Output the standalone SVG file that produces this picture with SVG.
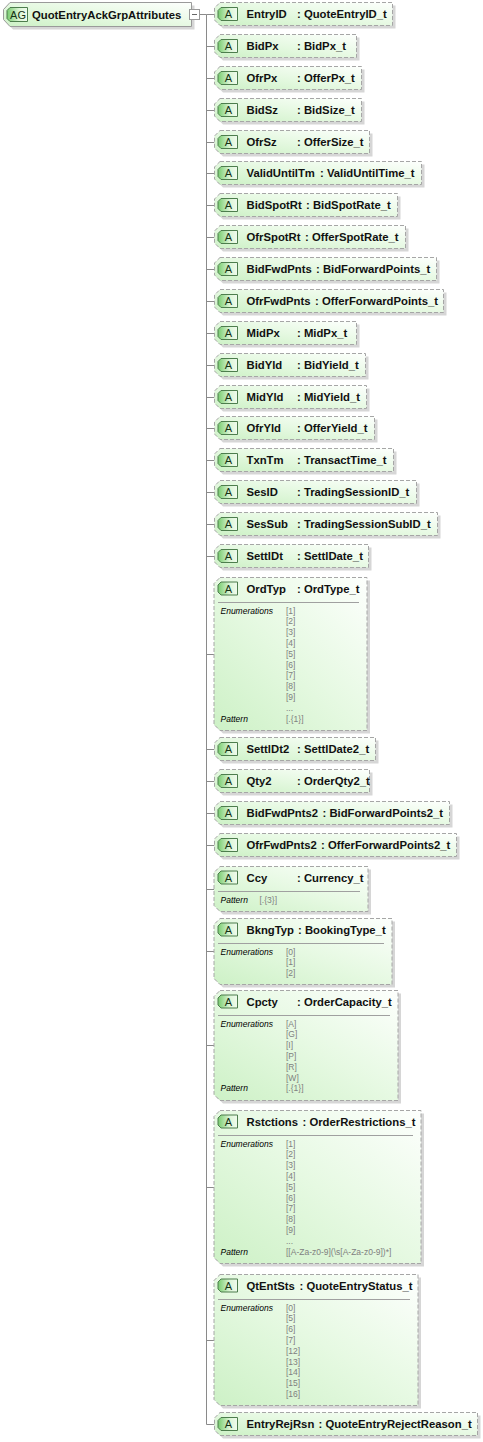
<svg xmlns="http://www.w3.org/2000/svg" width="483" height="1442" viewBox="0 0 483 1442">
<defs>
<linearGradient id="gf" x1="0" y1="1" x2="1" y2="0"><stop offset="0" stop-color="#cdf1c6"/><stop offset="0.5" stop-color="#e6f9e2"/><stop offset="1" stop-color="#fdfffd"/></linearGradient>
<linearGradient id="gb" x1="0" y1="0" x2="1" y2="0"><stop offset="0" stop-color="#78cc6f"/><stop offset="0.6" stop-color="#dcf5d6"/><stop offset="1" stop-color="#f0fbee"/></linearGradient>
<g id="ba"><polygon class="bd" points="221,-6.5 237.5,-6.5 237.5,6.5 221,6.5 218,3.5 218,-3.5"/><text class="bt" x="228.5" y="4">A</text></g>
</defs>
<style>
.sh{fill:#d6d6d6}
.nd{fill:url(#gf);stroke:#a6a6a6;stroke-dasharray:4 2}
.rt{fill:url(#gf);stroke:#9a9a9a}
.bd{fill:url(#gb);stroke:#4d7d4d}
.bt{font-family:"Liberation Sans",Arial,sans-serif;font-size:11px;fill:#143214;text-anchor:middle}
.nm{font-family:"Liberation Sans",Arial,sans-serif;font-size:11.3px;font-weight:bold;fill:#111}
.lb{font-family:"Liberation Sans",Arial,sans-serif;font-size:8.5px;font-style:italic;fill:#000}
.vl{font-family:"Liberation Sans",Arial,sans-serif;font-size:8.5px;fill:#808080}
.sep{stroke:#a0a0a0;fill:none}
.cn{stroke:#8a8a8a;fill:none}
</style>

<g id="connectors">
<path class="cn" d="M199.5,14.5H206.5V1424.5H214.5"/>
<path class="cn" d="M206.5,14.5H214.5M206.5,46.5H214.5M206.5,78.5H214.5M206.5,110.5H214.5M206.5,142.5H214.5M206.5,173.5H214.5M206.5,205.5H214.5M206.5,237.5H214.5M206.5,269.5H214.5M206.5,301.5H214.5M206.5,333.5H214.5M206.5,365.5H214.5M206.5,397.5H214.5M206.5,428.5H214.5M206.5,460.5H214.5M206.5,492.5H214.5M206.5,524.5H214.5M206.5,556.5H214.5M206.5,654.5H214.5M206.5,749.5H214.5M206.5,781.5H214.5M206.5,813.5H214.5M206.5,845.5H214.5M206.5,889.5H214.5M206.5,951.5H214.5M206.5,1045.5H214.5M206.5,1187.5H214.5M206.5,1340.5H214.5"/>
</g>

<g id="root">
<polygon class="sh" transform="translate(3,3)" points="10,2.5 191.5,2.5 191.5,26.5 10,26.5 3.5,19.5 3.5,9.5"/>
<polygon class="rt" points="10,2.5 191.5,2.5 191.5,26.5 10,26.5 3.5,19.5 3.5,9.5"/>
<polygon class="bd" points="10,7.5 27.5,7.5 27.5,21.5 10,21.5 7,18.5 7,10.5"/>
<text class="bt" x="18" y="18.5">AG</text>
<text class="nm" x="32" y="18.5">QuotEntryAckGrpAttributes</text>
<rect x="189.5" y="9.5" width="10" height="10" fill="#fff" stroke="#9a9a9a"/>
<path d="M192,14.5H197" stroke="#666"/>
</g>

<g id="n-EntryID" transform="translate(0,14)">
<polygon class="sh" transform="translate(3,3)" points="220,-11.5 392.5,-11.5 392.5,11.5 220,11.5 214.5,6 214.5,-6"/>
<polygon class="nd" points="220,-11.5 392.5,-11.5 392.5,11.5 220,11.5 214.5,6 214.5,-6"/>
<use href="#ba"/><text class="nm" x="246.5" y="4">EntryID</text><text class="nm" x="297" y="4">: QuoteEntryID_t</text>
</g>
<g id="n-BidPx" transform="translate(0,46)">
<polygon class="sh" transform="translate(3,3)" points="220,-11.5 356.5,-11.5 356.5,11.5 220,11.5 214.5,6 214.5,-6"/>
<polygon class="nd" points="220,-11.5 356.5,-11.5 356.5,11.5 220,11.5 214.5,6 214.5,-6"/>
<use href="#ba"/><text class="nm" x="246.5" y="4">BidPx</text><text class="nm" x="297" y="4">: BidPx_t</text>
</g>
<g id="n-OfrPx" transform="translate(0,78)">
<polygon class="sh" transform="translate(3,3)" points="220,-11.5 361.5,-11.5 361.5,11.5 220,11.5 214.5,6 214.5,-6"/>
<polygon class="nd" points="220,-11.5 361.5,-11.5 361.5,11.5 220,11.5 214.5,6 214.5,-6"/>
<use href="#ba"/><text class="nm" x="246.5" y="4">OfrPx</text><text class="nm" x="297" y="4">: OfferPx_t</text>
</g>
<g id="n-BidSz" transform="translate(0,110)">
<polygon class="sh" transform="translate(3,3)" points="220,-11.5 361.5,-11.5 361.5,11.5 220,11.5 214.5,6 214.5,-6"/>
<polygon class="nd" points="220,-11.5 361.5,-11.5 361.5,11.5 220,11.5 214.5,6 214.5,-6"/>
<use href="#ba"/><text class="nm" x="246.5" y="4">BidSz</text><text class="nm" x="297" y="4">: BidSize_t</text>
</g>
<g id="n-OfrSz" transform="translate(0,142)">
<polygon class="sh" transform="translate(3,3)" points="220,-11.5 369.5,-11.5 369.5,11.5 220,11.5 214.5,6 214.5,-6"/>
<polygon class="nd" points="220,-11.5 369.5,-11.5 369.5,11.5 220,11.5 214.5,6 214.5,-6"/>
<use href="#ba"/><text class="nm" x="246.5" y="4">OfrSz</text><text class="nm" x="297" y="4">: OfferSize_t</text>
</g>
<g id="n-ValidUntilTm" transform="translate(0,173)">
<polygon class="sh" transform="translate(3,3)" points="220,-11.5 421.5,-11.5 421.5,11.5 220,11.5 214.5,6 214.5,-6"/>
<polygon class="nd" points="220,-11.5 421.5,-11.5 421.5,11.5 220,11.5 214.5,6 214.5,-6"/>
<use href="#ba"/><text class="nm" x="246.5" y="4">ValidUntilTm</text><text class="nm" x="320" y="4">: ValidUntilTime_t</text>
</g>
<g id="n-BidSpotRt" transform="translate(0,205)">
<polygon class="sh" transform="translate(3,3)" points="220,-11.5 397.5,-11.5 397.5,11.5 220,11.5 214.5,6 214.5,-6"/>
<polygon class="nd" points="220,-11.5 397.5,-11.5 397.5,11.5 220,11.5 214.5,6 214.5,-6"/>
<use href="#ba"/><text class="nm" x="246.5" y="4">BidSpotRt</text><text class="nm" x="306" y="4">: BidSpotRate_t</text>
</g>
<g id="n-OfrSpotRt" transform="translate(0,237)">
<polygon class="sh" transform="translate(3,3)" points="220,-11.5 405.5,-11.5 405.5,11.5 220,11.5 214.5,6 214.5,-6"/>
<polygon class="nd" points="220,-11.5 405.5,-11.5 405.5,11.5 220,11.5 214.5,6 214.5,-6"/>
<use href="#ba"/><text class="nm" x="246.5" y="4">OfrSpotRt</text><text class="nm" x="305" y="4">: OfferSpotRate_t</text>
</g>
<g id="n-BidFwdPnts" transform="translate(0,269)">
<polygon class="sh" transform="translate(3,3)" points="220,-11.5 436.5,-11.5 436.5,11.5 220,11.5 214.5,6 214.5,-6"/>
<polygon class="nd" points="220,-11.5 436.5,-11.5 436.5,11.5 220,11.5 214.5,6 214.5,-6"/>
<use href="#ba"/><text class="nm" x="246.5" y="4">BidFwdPnts</text><text class="nm" x="316" y="4">: BidForwardPoints_t</text>
</g>
<g id="n-OfrFwdPnts" transform="translate(0,301)">
<polygon class="sh" transform="translate(3,3)" points="220,-11.5 443.5,-11.5 443.5,11.5 220,11.5 214.5,6 214.5,-6"/>
<polygon class="nd" points="220,-11.5 443.5,-11.5 443.5,11.5 220,11.5 214.5,6 214.5,-6"/>
<use href="#ba"/><text class="nm" x="246.5" y="4">OfrFwdPnts</text><text class="nm" x="315" y="4">: OfferForwardPoints_t</text>
</g>
<g id="n-MidPx" transform="translate(0,333)">
<polygon class="sh" transform="translate(3,3)" points="220,-11.5 356.5,-11.5 356.5,11.5 220,11.5 214.5,6 214.5,-6"/>
<polygon class="nd" points="220,-11.5 356.5,-11.5 356.5,11.5 220,11.5 214.5,6 214.5,-6"/>
<use href="#ba"/><text class="nm" x="246.5" y="4">MidPx</text><text class="nm" x="297" y="4">: MidPx_t</text>
</g>
<g id="n-BidYld" transform="translate(0,365)">
<polygon class="sh" transform="translate(3,3)" points="220,-11.5 365.5,-11.5 365.5,11.5 220,11.5 214.5,6 214.5,-6"/>
<polygon class="nd" points="220,-11.5 365.5,-11.5 365.5,11.5 220,11.5 214.5,6 214.5,-6"/>
<use href="#ba"/><text class="nm" x="246.5" y="4">BidYld</text><text class="nm" x="297" y="4">: BidYield_t</text>
</g>
<g id="n-MidYld" transform="translate(0,397)">
<polygon class="sh" transform="translate(3,3)" points="220,-11.5 366.5,-11.5 366.5,11.5 220,11.5 214.5,6 214.5,-6"/>
<polygon class="nd" points="220,-11.5 366.5,-11.5 366.5,11.5 220,11.5 214.5,6 214.5,-6"/>
<use href="#ba"/><text class="nm" x="246.5" y="4">MidYld</text><text class="nm" x="297" y="4">: MidYield_t</text>
</g>
<g id="n-OfrYld" transform="translate(0,428)">
<polygon class="sh" transform="translate(3,3)" points="220,-11.5 374.5,-11.5 374.5,11.5 220,11.5 214.5,6 214.5,-6"/>
<polygon class="nd" points="220,-11.5 374.5,-11.5 374.5,11.5 220,11.5 214.5,6 214.5,-6"/>
<use href="#ba"/><text class="nm" x="246.5" y="4">OfrYld</text><text class="nm" x="297" y="4">: OfferYield_t</text>
</g>
<g id="n-TxnTm" transform="translate(0,460)">
<polygon class="sh" transform="translate(3,3)" points="220,-11.5 393.5,-11.5 393.5,11.5 220,11.5 214.5,6 214.5,-6"/>
<polygon class="nd" points="220,-11.5 393.5,-11.5 393.5,11.5 220,11.5 214.5,6 214.5,-6"/>
<use href="#ba"/><text class="nm" x="246.5" y="4">TxnTm</text><text class="nm" x="297" y="4">: TransactTime_t</text>
</g>
<g id="n-SesID" transform="translate(0,492)">
<polygon class="sh" transform="translate(3,3)" points="220,-11.5 416.5,-11.5 416.5,11.5 220,11.5 214.5,6 214.5,-6"/>
<polygon class="nd" points="220,-11.5 416.5,-11.5 416.5,11.5 220,11.5 214.5,6 214.5,-6"/>
<use href="#ba"/><text class="nm" x="246.5" y="4">SesID</text><text class="nm" x="297" y="4">: TradingSessionID_t</text>
</g>
<g id="n-SesSub" transform="translate(0,524)">
<polygon class="sh" transform="translate(3,3)" points="220,-11.5 437.5,-11.5 437.5,11.5 220,11.5 214.5,6 214.5,-6"/>
<polygon class="nd" points="220,-11.5 437.5,-11.5 437.5,11.5 220,11.5 214.5,6 214.5,-6"/>
<use href="#ba"/><text class="nm" x="246.5" y="4">SesSub</text><text class="nm" x="297" y="4">: TradingSessionSubID_t</text>
</g>
<g id="n-SettlDt" transform="translate(0,556)">
<polygon class="sh" transform="translate(3,3)" points="220,-11.5 368.5,-11.5 368.5,11.5 220,11.5 214.5,6 214.5,-6"/>
<polygon class="nd" points="220,-11.5 368.5,-11.5 368.5,11.5 220,11.5 214.5,6 214.5,-6"/>
<use href="#ba"/><text class="nm" x="246.5" y="4">SettlDt</text><text class="nm" x="297" y="4">: SettlDate_t</text>
</g>

<g id="n-OrdTyp" transform="translate(0,577.5)">
<polygon class="sh" transform="translate(3,3)" points="220,0 367,0 367,153 220,153 214,147 214,6"/>
<polygon class="nd" points="220,0 367,0 367,153 220,153 214,147 214,6"/>
<use href="#ba" y="11"/><text class="nm" x="246.5" y="15">OrdTyp</text><text class="nm" x="297" y="15">: OrdType_t</text>
<path class="sep" d="M218,25H359"/>
<text class="lb" x="220.5" y="36">Enumerations</text>
<text class="vl" x="286" y="36">[1]</text><text class="vl" x="286" y="46.8">[2]</text><text class="vl" x="286" y="57.6">[3]</text><text class="vl" x="286" y="68.4">[4]</text><text class="vl" x="286" y="79.2">[5]</text><text class="vl" x="286" y="90">[6]</text><text class="vl" x="286" y="100.8">[7]</text><text class="vl" x="286" y="111.6">[8]</text><text class="vl" x="286" y="122.4">[9]</text><text class="vl" x="286" y="133.2">...</text>
<text class="lb" x="220.5" y="144">Pattern</text><text class="vl" x="286" y="144">[.{1}]</text>
</g>

<g id="n-SettlDt2" transform="translate(0,749)">
<polygon class="sh" transform="translate(3,3)" points="220,-11.5 375.5,-11.5 375.5,11.5 220,11.5 214.5,6 214.5,-6"/>
<polygon class="nd" points="220,-11.5 375.5,-11.5 375.5,11.5 220,11.5 214.5,6 214.5,-6"/>
<use href="#ba"/><text class="nm" x="246.5" y="4">SettlDt2</text><text class="nm" x="297" y="4">: SettlDate2_t</text>
</g>
<g id="n-Qty2" transform="translate(0,781)">
<polygon class="sh" transform="translate(3,3)" points="220,-11.5 369.5,-11.5 369.5,11.5 220,11.5 214.5,6 214.5,-6"/>
<polygon class="nd" points="220,-11.5 369.5,-11.5 369.5,11.5 220,11.5 214.5,6 214.5,-6"/>
<use href="#ba"/><text class="nm" x="246.5" y="4">Qty2</text><text class="nm" x="297" y="4">: OrderQty2_t</text>
</g>
<g id="n-BidFwdPnts2" transform="translate(0,813)">
<polygon class="sh" transform="translate(3,3)" points="220,-11.5 449.5,-11.5 449.5,11.5 220,11.5 214.5,6 214.5,-6"/>
<polygon class="nd" points="220,-11.5 449.5,-11.5 449.5,11.5 220,11.5 214.5,6 214.5,-6"/>
<use href="#ba"/><text class="nm" x="246.5" y="4">BidFwdPnts2</text><text class="nm" x="322.5" y="4">: BidForwardPoints2_t</text>
</g>
<g id="n-OfrFwdPnts2" transform="translate(0,845)">
<polygon class="sh" transform="translate(3,3)" points="220,-11.5 456.5,-11.5 456.5,11.5 220,11.5 214.5,6 214.5,-6"/>
<polygon class="nd" points="220,-11.5 456.5,-11.5 456.5,11.5 220,11.5 214.5,6 214.5,-6"/>
<use href="#ba"/><text class="nm" x="246.5" y="4">OfrFwdPnts2</text><text class="nm" x="321" y="4">: OfferForwardPoints2_t</text>
</g>

<g id="n-Ccy" transform="translate(0,866.5)">
<polygon class="sh" transform="translate(3,3)" points="220,0 368,0 368,45 220,45 214,39 214,6"/>
<polygon class="nd" points="220,0 368,0 368,45 220,45 214,39 214,6"/>
<use href="#ba" y="11"/><text class="nm" x="246.5" y="15">Ccy</text><text class="nm" x="297" y="15">: Currency_t</text>
<path class="sep" d="M218,25H360"/>
<text class="lb" x="220.5" y="36">Pattern</text><text class="vl" x="259.5" y="36">[.{3}]</text>
</g>

<g id="n-BkngTyp" transform="translate(0,918.5)">
<polygon class="sh" transform="translate(3,3)" points="220,0 392,0 392,66 220,66 214,60 214,6"/>
<polygon class="nd" points="220,0 392,0 392,66 220,66 214,60 214,6"/>
<use href="#ba" y="11"/><text class="nm" x="246.5" y="15">BkngTyp</text><text class="nm" x="298" y="15">: BookingType_t</text>
<path class="sep" d="M218,25H384"/>
<text class="lb" x="220.5" y="36">Enumerations</text>
<text class="vl" x="286" y="36">[0]</text><text class="vl" x="286" y="46.8">[1]</text><text class="vl" x="286" y="57.6">[2]</text>
</g>

<g id="n-Cpcty" transform="translate(0,990.5)">
<polygon class="sh" transform="translate(3,3)" points="220,0 398,0 398,110 220,110 214,104 214,6"/>
<polygon class="nd" points="220,0 398,0 398,110 220,110 214,104 214,6"/>
<use href="#ba" y="11"/><text class="nm" x="246.5" y="15">Cpcty</text><text class="nm" x="297" y="15">: OrderCapacity_t</text>
<path class="sep" d="M218,25H390"/>
<text class="lb" x="220.5" y="36">Enumerations</text>
<text class="vl" x="286" y="36">[A]</text><text class="vl" x="286" y="46.8">[G]</text><text class="vl" x="286" y="57.6">[I]</text><text class="vl" x="286" y="68.4">[P]</text><text class="vl" x="286" y="79.2">[R]</text><text class="vl" x="286" y="90">[W]</text>
<text class="lb" x="220.5" y="100.8">Pattern</text><text class="vl" x="286" y="100.8">[.{1}]</text>
</g>

<g id="n-Rstctions" transform="translate(0,1110.5)">
<polygon class="sh" transform="translate(3,3)" points="220,0 421,0 421,153 220,153 214,147 214,6"/>
<polygon class="nd" points="220,0 421,0 421,153 220,153 214,147 214,6"/>
<use href="#ba" y="11"/><text class="nm" x="246.5" y="15">Rstctions</text><text class="nm" x="302.5" y="15">: OrderRestrictions_t</text>
<path class="sep" d="M218,25H413"/>
<text class="lb" x="220.5" y="36">Enumerations</text>
<text class="vl" x="286" y="36">[1]</text><text class="vl" x="286" y="46.8">[2]</text><text class="vl" x="286" y="57.6">[3]</text><text class="vl" x="286" y="68.4">[4]</text><text class="vl" x="286" y="79.2">[5]</text><text class="vl" x="286" y="90">[6]</text><text class="vl" x="286" y="100.8">[7]</text><text class="vl" x="286" y="111.6">[8]</text><text class="vl" x="286" y="122.4">[9]</text><text class="vl" x="286" y="133.2">...</text>
<text class="lb" x="220.5" y="144">Pattern</text><text class="vl" x="286" y="144">[[A-Za-z0-9](\s[A-Za-z0-9])*]</text>
</g>

<g id="n-QtEntSts" transform="translate(0,1274.5)">
<polygon class="sh" transform="translate(3,3)" points="220,0 418,0 418,131 220,131 214,125 214,6"/>
<polygon class="nd" points="220,0 418,0 418,131 220,131 214,125 214,6"/>
<use href="#ba" y="11"/><text class="nm" x="246.5" y="15">QtEntSts</text><text class="nm" x="299.5" y="15">: QuoteEntryStatus_t</text>
<path class="sep" d="M218,25H410"/>
<text class="lb" x="220.5" y="36">Enumerations</text>
<text class="vl" x="286" y="36">[0]</text><text class="vl" x="286" y="46.8">[5]</text><text class="vl" x="286" y="57.6">[6]</text><text class="vl" x="286" y="68.4">[7]</text><text class="vl" x="286" y="79.2">[12]</text><text class="vl" x="286" y="90">[13]</text><text class="vl" x="286" y="100.8">[14]</text><text class="vl" x="286" y="111.6">[15]</text><text class="vl" x="286" y="122.4">[16]</text>
</g>

<g id="n-EntryRejRsn" transform="translate(0,1424)">
<polygon class="sh" transform="translate(3,3)" points="220,-11.5 477.5,-11.5 477.5,11.5 220,11.5 214.5,6 214.5,-6"/>
<polygon class="nd" points="220,-11.5 477.5,-11.5 477.5,11.5 220,11.5 214.5,6 214.5,-6"/>
<use href="#ba"/><text class="nm" x="246.5" y="4">EntryRejRsn</text><text class="nm" x="318.5" y="4">: QuoteEntryRejectReason_t</text>
</g>
</svg>
